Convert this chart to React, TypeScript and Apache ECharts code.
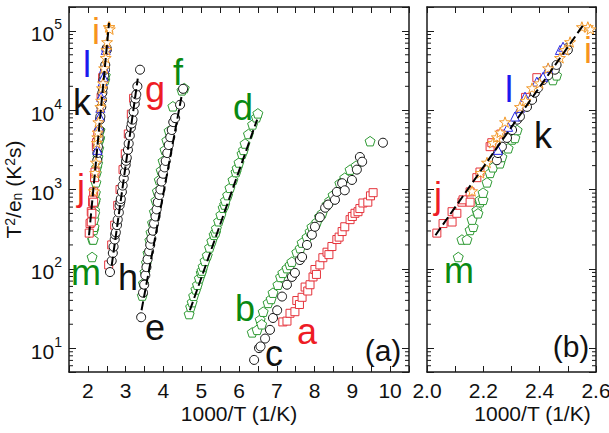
import React, { useEffect, useRef } from 'react';
import * as echarts from 'echarts';

type Pt = [number, number];

// ---- measured points: [1000/T (1/K), T^2/e_n (K^2 s)] ----
const aSquares: Pt[] = [
  [7.16, 21.4], [7.27, 21.9], [7.35, 27.5], [7.48, 28.8], [7.53, 39.8], [7.6, 35.5], [7.67, 43.7],
  [7.75, 58.9], [7.82, 52.5], [7.88, 63], [7.96, 79], [8.01, 98], [8.05, 85], [8.14, 112], [8.22, 138],
  [8.33, 162], [8.38, 151], [8.46, 191], [8.59, 234], [8.65, 251], [8.73, 295], [8.8, 339], [8.94, 417],
  [9.0, 457], [9.07, 501], [9.15, 525], [9.2, 575], [9.28, 676], [9.41, 692], [9.48, 832], [9.55, 912],
];
const bPentagons: Pt[] = [
  [6.35, 15.8], [6.48, 17], [6.56, 22.9], [6.6, 20], [6.64, 28.8], [6.77, 37.2], [6.85, 41.7], [6.9, 50],
  [7.03, 63], [7.1, 79], [7.16, 89], [7.27, 102], [7.35, 112], [7.4, 123], [7.53, 162], [7.62, 182],
  [7.67, 214], [7.8, 251], [7.88, 295], [7.93, 339], [8.06, 389], [8.13, 457], [8.2, 501], [8.33, 646],
  [8.4, 724], [8.49, 851], [8.67, 1200], [8.8, 1410], [8.94, 1780], [9.1, 2000], [9.47, 4070],
];
const cCircles: Pt[] = [
  [6.4, 7.1], [6.53, 10], [6.57, 10.5], [6.69, 13.2], [6.82, 17], [6.9, 24], [7.01, 30], [7.14, 44.7],
  [7.27, 63], [7.4, 79], [7.48, 89], [7.61, 129], [7.67, 141], [7.8, 200], [7.93, 269], [8.01, 339],
  [8.14, 447], [8.28, 589], [8.36, 646], [8.54, 741], [8.59, 933], [8.73, 1200], [8.8, 977], [8.99, 1320],
  [9.12, 1780], [9.2, 2570], [9.26, 2240], [9.81, 3890],
];
const dPentagons: Pt[] = [
  [4.68, 26.9], [4.72, 33.1], [4.76, 38], [4.8, 45.7], [4.86, 55], [4.9, 63], [4.95, 75.9], [5.0, 89],
  [5.02, 95], [5.05, 107], [5.1, 126], [5.16, 148], [5.22, 186], [5.28, 224], [5.34, 269], [5.38, 288],
  [5.4, 324], [5.46, 398], [5.52, 479], [5.58, 589], [5.62, 646], [5.64, 724], [5.7, 851], [5.76, 1050],
  [5.84, 1320], [5.92, 1660], [5.95, 1860], [6.0, 2190], [6.08, 2820], [6.12, 3160], [6.16, 3800],
  [6.25, 5010], [6.36, 6610], [6.46, 8130], [6.5, 9120],
];
const eCircles: Pt[] = [
  [3.41, 24.5], [3.46, 50], [3.49, 63], [3.52, 83], [3.55, 105], [3.58, 132], [3.62, 166], [3.65, 200],
  [3.68, 240], [3.72, 302], [3.75, 372], [3.79, 457], [3.82, 562], [3.85, 692], [3.89, 851], [3.92, 1000],
  [3.95, 1260], [3.99, 1580], [4.03, 1900], [4.06, 2290], [4.1, 2880], [4.14, 3630], [4.18, 4570],
  [4.22, 5620], [4.26, 7080], [4.31, 7940], [4.44, 11700], [4.52, 18600],
];
const fPentagons: Pt[] = [
  [3.44, 46], [3.47, 66], [3.51, 91], [3.55, 120], [3.59, 158], [3.64, 229], [3.67, 288], [3.71, 380],
  [3.76, 525], [3.8, 724], [3.84, 955], [3.89, 1320], [3.94, 1740], [3.99, 2290], [4.04, 3160],
  [4.09, 4170], [4.15, 5500], [4.25, 11200], [4.49, 17800], [4.55, 19000],
];
const gSquares: Pt[] = [
  [2.55, 112], [2.63, 200], [2.71, 355], [2.79, 631], [2.85, 1000], [2.93, 1780], [2.99, 2820],
  [3.07, 5010], [3.15, 8910], [3.21, 14100],
];
const hCircles: Pt[] = [
  [2.585, 91], [2.63, 126], [2.66, 158], [2.68, 190], [2.71, 234], [2.72, 270], [2.74, 288], [2.77, 355],
  [2.79, 417], [2.82, 513], [2.84, 631], [2.86, 700], [2.87, 759], [2.9, 933], [2.92, 1120], [2.95, 1380],
  [2.98, 1660], [3.0, 2040], [3.01, 2300], [3.03, 2510], [3.06, 3160], [3.08, 3800], [3.11, 4790],
  [3.14, 6030], [3.16, 6800], [3.18, 7590], [3.21, 9550], [3.24, 12000], [3.26, 14000], [3.28, 15800],
  [3.31, 20000], [3.38, 32400],
];
const iStars: Pt[] = [
  [2.16, 955], [2.19, 1620], [2.213, 2190], [2.234, 3890], [2.248, 4570], [2.26, 5250], [2.277, 7080],
  [2.33, 11000], [2.35, 13200], [2.373, 19000], [2.4, 21900], [2.43, 33900], [2.472, 45700], [2.49, 57500],
  [2.508, 72400], [2.55, 112000], [2.571, 112000], [2.58, 105000],
];
const jSquares: Pt[] = [
  [2.035, 282], [2.057, 372], [2.089, 389], [2.089, 525], [2.106, 501], [2.124, 692], [2.128, 741],
  [2.153, 692], [2.153, 933], [2.177, 1410], [2.188, 1660], [2.224, 3470], [2.23, 3890], [2.262, 5000],
  [2.35, 14500], [2.39, 25700],
];
const kCircles: Pt[] = [
  [2.248, 2340], [2.252, 2880], [2.266, 3470], [2.284, 4470], [2.302, 5620], [2.32, 7590], [2.33, 8320],
  [2.355, 11000], [2.373, 13500], [2.383, 16600], [2.394, 19000], [2.412, 24000], [2.43, 27500],
  [2.454, 32400], [2.46, 37200], [2.497, 60300], [2.5, 57500],
];
const lTriangles: Pt[] = [
  [2.252, 3160], [2.288, 6170], [2.312, 8320], [2.33, 10700], [2.348, 14800], [2.39, 22900],
  [2.412, 26300], [2.43, 33900], [2.472, 57500], [2.483, 63100],
];
const mPentagons: Pt[] = [
  [2.111, 141], [2.124, 234], [2.142, 234], [2.153, 309], [2.164, 339], [2.16, 417], [2.177, 550],
  [2.181, 501], [2.188, 692], [2.188, 741], [2.199, 741], [2.199, 912], [2.213, 1230], [2.224, 1620],
  [2.234, 1905], [2.259, 2140], [2.266, 2570], [2.288, 3310], [2.302, 4270], [2.312, 4470], [2.32, 5620],
  [2.447, 24000], [2.46, 27500],
];

// Arrhenius fits (dashed)
const fitIJKLM: Pt[] = [[2.03, 265], [2.56, 126000]];
const fitGH: Pt[] = [[2.63, 110], [3.32, 25000]];
const fitEF: Pt[] = [[3.42, 30], [4.48, 15000]];
const fitD: Pt[] = [[4.7, 30], [6.48, 7600]];

// axis extents
const yMin = 5;
const yMax = 200000;
const xLeft = { min: 1.5, max: 10.5, interval: 0.5 };
const xRight = { min: 2.0, max: 2.6, interval: 0.1 };
const decades = [1, 10, 100, 1000, 10000, 100000];
const minorFactors = [2, 3, 4, 5, 6, 7, 8, 9];

// ---- styling ----
const FONT = '"Liberation Sans", Arial, Helvetica, sans-serif';
const AXIS = '#1a1a1a';
const BLACK = '#111111';
const GREEN_MK = '#2f9a34';
const RED_MK = '#e5333b';
const ORANGE_MK = '#f39a2a';
const BLUE_MK = '#2727e6';
const GREEN_TX = '#0a8a12';
const RED_TX = '#ee1c25';
const ORANGE_TX = '#f7941d';
const BLUE_TX = '#1a1aee';

const PENTAGON = 'path://M0,-10L9.51,-3.09L5.88,8.09L-5.88,8.09L-9.51,-3.09Z';
const STAR =
  'path://M0,-10L2.35,-3.24L9.51,-3.09L3.8,1.24L5.88,8.09L0,4L-5.88,8.09L-3.8,1.24L-9.51,-3.09L-2.35,-3.24Z';

// letter annotations: centre x, baseline y
const LETTER_SIZE = 36;
const letters: { t: string; x: number; b: number; c: string; fs?: number }[] = [
  { t: 'i', x: 96, b: 44, c: ORANGE_TX },
  { t: 'l', x: 87, b: 77, c: BLUE_TX },
  { t: 'k', x: 82, b: 115, c: BLACK },
  { t: 'j', x: 81, b: 200, c: RED_TX },
  { t: 'm', x: 86, b: 285, c: GREEN_TX },
  { t: 'h', x: 128, b: 290, c: BLACK },
  { t: 'e', x: 155, b: 340, c: BLACK },
  { t: 'g', x: 155, b: 102, c: RED_TX },
  { t: 'f', x: 178, b: 85, c: GREEN_TX },
  { t: 'd', x: 243, b: 120, c: GREEN_TX },
  { t: 'b', x: 245, b: 321, c: GREEN_TX },
  { t: 'c', x: 274, b: 366, c: BLACK },
  { t: 'a', x: 307, b: 344, c: RED_TX },
  { t: '(a)', x: 383, b: 361, c: BLACK, fs: 30 },
  { t: 'l', x: 509, b: 102, c: BLUE_TX },
  { t: 'k', x: 543, b: 148, c: BLACK },
  { t: 'i', x: 588, b: 63, c: ORANGE_TX },
  { t: 'j', x: 438, b: 208, c: RED_TX },
  { t: 'm', x: 459, b: 283, c: GREEN_TX },
  { t: '(b)', x: 571, b: 357, c: BLACK, fs: 30 },
];

const yMinorTicks: number[] = [];
decades.forEach((d) =>
  minorFactors.forEach((f) => {
    const v = d * f;
    if (v > yMin && v < yMax) yMinorTicks.push(v);
  })
);

const isPow10 = (v: number) => {
  const e = Math.log10(v);
  return Math.abs(e - Math.round(e)) < 1e-6;
};

function buildOption(): echarts.EChartsOption {
  const grids = [
    { left: 69, top: 7, width: 340, height: 365, containLabel: false, outerBoundsMode: 'none' },
    { left: 427, top: 7, width: 169, height: 365, containLabel: false, outerBoundsMode: 'none' },
  ];

  const tickLabel = {
    color: BLACK,
    fontSize: 21,
    fontFamily: FONT,
  };

  const xAxis = (gridIndex: number, ext: { min: number; max: number; interval: number }, position: 'bottom' | 'top', formatter: ((v: number) => string) | null, name?: string, namePad?: number) => ({
    type: 'value' as const,
    gridIndex,
    position,
    min: ext.min,
    max: ext.max,
    interval: ext.interval,
    name: name || '',
    nameLocation: 'middle' as const,
    nameGap: 31,
    nameMoveOverlap: false,
    nameTextStyle: { color: BLACK, fontSize: 21, fontFamily: FONT, padding: [0, 0, 0, namePad || 0] },
    axisLine: { show: true, onZero: false, lineStyle: { color: AXIS, width: 1.5 } },
    axisTick: { show: true, inside: true, length: 6, lineStyle: { color: AXIS, width: 1 } },
    axisLabel: formatter
      ? { show: true, margin: 8, formatter, showMinLabel: true, showMaxLabel: true, ...tickLabel }
      : { show: false },
    splitLine: { show: false },
  });

  const yAxis = (gridIndex: number, position: 'left' | 'right', labels: boolean, name?: string) => ({
    type: 'log' as const,
    logBase: 10,
    gridIndex,
    position,
    min: yMin,
    max: yMax,
    name: name || '',
    nameLocation: 'middle' as const,
    nameGap: 45,
    nameMoveOverlap: false,
    nameTextStyle: {
      color: BLACK,
      fontSize: 21,
      fontFamily: FONT,
      rich: {
        sup: { fontSize: 14, fontFamily: FONT, color: BLACK, verticalAlign: 'top' as const },
        sub: { fontSize: 14, fontFamily: FONT, color: BLACK, verticalAlign: 'bottom' as const },
      },
    },
    axisLine: { show: true, onZero: false, lineStyle: { color: AXIS, width: 1.5 } },
    axisTick: { show: true, inside: true, length: 7, lineStyle: { color: AXIS, width: 1 } },
    axisLabel: labels
      ? {
          show: true,
          margin: 7,
          formatter: (v: number) => (isPow10(v) ? `{b|10}{s|${Math.round(Math.log10(v))}}` : ''),
          rich: {
            b: { fontSize: 21, fontFamily: FONT, color: BLACK, padding: [6, 0, 0, 0] },
            s: { fontSize: 14, fontFamily: FONT, color: BLACK, verticalAlign: 'top' as const },
          },
        }
      : { show: false },
    splitLine: { show: false },
    minorTick: { show: false },
  });

  const leftFmt = (v: number) => (Math.abs(v - Math.round(v)) < 1e-6 ? String(Math.round(v)) : '');
  const rightFmt = (v: number) => {
    const r = Math.round(v * 10);
    return Math.abs(v * 10 - r) < 1e-6 && r % 2 === 0 ? (r / 10).toFixed(1) : '';
  };

  const scatter = (data: Pt[], symbol: string, size: number, color: string, ax: number, z: number) => ({
    type: 'scatter' as const,
    data,
    symbol,
    symbolSize: size,
    symbolKeepAspect: true,
    xAxisIndex: ax,
    yAxisIndex: ax,
    itemStyle: { color: '#ffffff', borderColor: color, borderWidth: 1, opacity: 1 },
    silent: true,
    z,
  });

  const fit = (data: Pt[], ax: number) => ({
    type: 'line' as const,
    data,
    xAxisIndex: ax,
    yAxisIndex: ax,
    symbol: 'none',
    silent: true,
    lineStyle: { color: '#000000', width: 2, type: [9, 4] as number[] },
    z: 6,
  });

  const minorTicks = (ax: number, x0: number) => ({
    type: 'custom' as const,
    xAxisIndex: ax,
    yAxisIndex: ax,
    silent: true,
    z: 8,
    data: yMinorTicks.map((v) => [x0, v]),
    renderItem: (params: any, api: any) => {
      const cs = params.coordSys;
      const y = api.coord([api.value(0), api.value(1)])[1];
      return {
        type: 'group',
        children: [
          { type: 'line', shape: { x1: cs.x, y1: y, x2: cs.x + 4, y2: y }, style: { stroke: AXIS, lineWidth: 1 } },
          {
            type: 'line',
            shape: { x1: cs.x + cs.width, y1: y, x2: cs.x + cs.width - 4, y2: y },
            style: { stroke: AXIS, lineWidth: 1 },
          },
        ],
      };
    },
  });

  // the same i–m cluster is drawn in both panels
  const cluster = (ax: number) => [
    scatter(mPentagons, PENTAGON, 10, GREEN_MK, ax, 2),
    scatter(jSquares, 'rect', 8, RED_MK, ax, 2),
    scatter(kCircles, 'circle', 9, BLACK, ax, 3),
    scatter(lTriangles, 'triangle', 9, BLUE_MK, ax, 3),
    scatter(iStars, STAR, 11, ORANGE_MK, ax, 3),
    fit(fitIJKLM, ax),
  ];

  const series: any[] = [
    scatter(aSquares, 'rect', 8, RED_MK, 0, 2),
    scatter(bPentagons, PENTAGON, 10, GREEN_MK, 0, 2),
    scatter(cCircles, 'circle', 9, BLACK, 0, 3),
    scatter(dPentagons, PENTAGON, 10, GREEN_MK, 0, 2),
    scatter(fPentagons, PENTAGON, 10, GREEN_MK, 0, 2),
    scatter(eCircles, 'circle', 9, BLACK, 0, 3),
    scatter(gSquares, 'rect', 8, RED_MK, 0, 2),
    scatter(hCircles, 'circle', 9, BLACK, 0, 3),
    ...cluster(0),
    fit(fitGH, 0),
    fit(fitEF, 0),
    fit(fitD, 0),
    ...cluster(2),
    minorTicks(0, xLeft.min),
    minorTicks(2, xRight.min),
  ];

  return {
    animation: false,
    backgroundColor: '#ffffff',
    textStyle: { fontFamily: FONT },
    grid: grids as any,
    xAxis: [
      xAxis(0, xLeft, 'bottom', leftFmt, '1000/T (1/K)'),
      xAxis(0, xLeft, 'top', null),
      xAxis(1, xRight, 'bottom', rightFmt, '1000/T (1/K)', 42),
      xAxis(1, xRight, 'top', null),
    ] as any,
    yAxis: [
      yAxis(0, 'left', true, 'T{sup|2}/e{sub|n} (K{sup|2}s)'),
      yAxis(0, 'right', false),
      yAxis(1, 'left', false),
      yAxis(1, 'right', false),
    ] as any,
    series,
    graphic: letters.map((l) => {
      const fs = l.fs || LETTER_SIZE;
      return {
        type: 'text',
        x: l.x,
        y: l.b - 0.3465 * fs,
        z: 20,
        silent: true,
        style: {
          text: l.t,
          fill: l.c,
          fontSize: fs,
          fontFamily: FONT,
          align: 'center',
          verticalAlign: 'middle',
          textAlign: 'center',
          textVerticalAlign: 'middle',
        },
      };
    }) as any,
  };
}

export default function App() {
  const ref = useRef<HTMLDivElement>(null);
  useEffect(() => {
    if (!ref.current) return;
    const chart = echarts.init(ref.current, undefined, { renderer: 'svg' });
    chart.setOption(buildOption());
    return () => chart.dispose();
  }, []);
  return (
    <div
      ref={ref}
      style={{ position: 'fixed', left: 0, top: 0, width: 609, height: 433, background: '#fff' }}
    />
  );
}
